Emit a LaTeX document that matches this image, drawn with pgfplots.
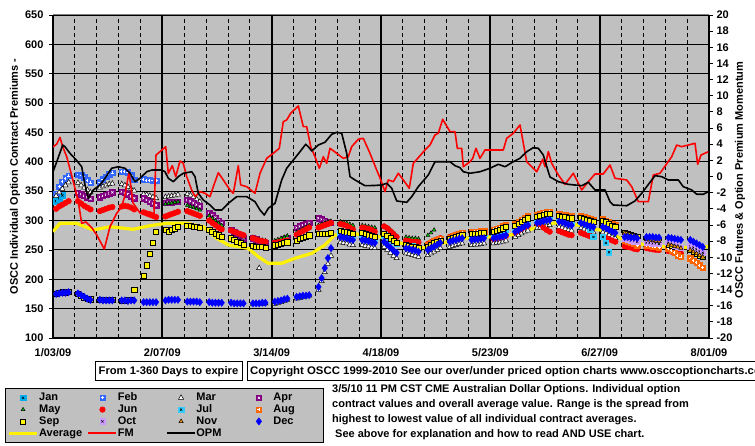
\documentclass[border=0pt]{standalone}
\usepackage{fontspec}
\setmainfont{Liberation Sans}
\usepackage{pgfplots}
\pgfplotsset{compat=1.18}
\definecolor{bggray}{HTML}{C0C0C0}
\definecolor{febblue}{HTML}{3366FF}
\definecolor{aprpurple}{HTML}{800080}
\definecolor{maygreen}{HTML}{00CC00}
\definecolor{julcyan}{HTML}{33CCFF}
\definecolor{augorange}{HTML}{FF6600}
\definecolor{octlav}{HTML}{CC99FF}
\definecolor{novorange}{HTML}{FF9900}
\definecolor{decblue}{HTML}{0000FF}
\definecolor{topgray}{HTML}{808080}
\newcommand{\ff}{\bfseries\fontsize{11}{13}\selectfont}
\pgfdeclareplotmark{sqxk}{%
  \pgfpathrectangle{\pgfqpoint{-\pgfplotmarksize}{-\pgfplotmarksize}}{\pgfqpoint{2\pgfplotmarksize}{2\pgfplotmarksize}}%
  \pgfusepathqfillstroke
  \begin{pgfscope}\pgfsetstrokecolor{black}\pgfsetlinewidth{0.5pt}%
  \pgfpathmoveto{\pgfqpoint{-0.4\pgfplotmarksize}{-0.4\pgfplotmarksize}}\pgfpathlineto{\pgfqpoint{0.4\pgfplotmarksize}{0.4\pgfplotmarksize}}%
  \pgfpathmoveto{\pgfqpoint{-0.4\pgfplotmarksize}{0.4\pgfplotmarksize}}\pgfpathlineto{\pgfqpoint{0.4\pgfplotmarksize}{-0.4\pgfplotmarksize}}%
  \pgfusepathqstroke\end{pgfscope}}
\pgfdeclareplotmark{sqxw}{%
  \pgfpathrectangle{\pgfqpoint{-\pgfplotmarksize}{-\pgfplotmarksize}}{\pgfqpoint{2\pgfplotmarksize}{2\pgfplotmarksize}}%
  \pgfusepathqfillstroke
  \begin{pgfscope}\pgfsetstrokecolor{white}\pgfsetlinewidth{0.6pt}%
  \pgfpathmoveto{\pgfqpoint{-0.4\pgfplotmarksize}{-0.4\pgfplotmarksize}}\pgfpathlineto{\pgfqpoint{0.4\pgfplotmarksize}{0.4\pgfplotmarksize}}%
  \pgfpathmoveto{\pgfqpoint{-0.4\pgfplotmarksize}{0.4\pgfplotmarksize}}\pgfpathlineto{\pgfqpoint{0.4\pgfplotmarksize}{-0.4\pgfplotmarksize}}%
  \pgfusepathqstroke\end{pgfscope}}
\pgfdeclareplotmark{sqpw}{%
  \pgfpathrectangle{\pgfqpoint{-\pgfplotmarksize}{-\pgfplotmarksize}}{\pgfqpoint{2\pgfplotmarksize}{2\pgfplotmarksize}}%
  \pgfusepathqfillstroke
  \begin{pgfscope}\pgfsetstrokecolor{white}\pgfsetlinewidth{0.7pt}%
  \pgfpathmoveto{\pgfqpoint{-0.55\pgfplotmarksize}{0pt}}\pgfpathlineto{\pgfqpoint{0.55\pgfplotmarksize}{0pt}}%
  \pgfpathmoveto{\pgfqpoint{0pt}{-0.55\pgfplotmarksize}}\pgfpathlineto{\pgfqpoint{0pt}{0.55\pgfplotmarksize}}%
  \pgfusepathqstroke\end{pgfscope}}
\pgfplotsset{
  mk/.style={only marks, line width=0.5pt,
    legend image code/.code={\path[draw=none,fill=none] (0pt,-3pt) rectangle (28pt,3pt);
      \draw[mark repeat=2,mark phase=2,##1] plot coordinates {(0pt,0pt) (14pt,0pt) (28pt,0pt)};}},
  ln/.style={legend image code/.code={\draw[##1] (0pt,0pt) -- (28pt,0pt);}},
}
\newcommand{\lgd}[1]{\addlegendentry{\makebox[48pt][l]{#1}}}
\begin{document}
\begin{tikzpicture}
\useasboundingbox (0,0) rectangle (755pt,446pt);
\begin{axis}[
  at={(53pt,108pt)}, anchor=south west, scale only axis, width=656pt, height=323pt,
  xmin=0, xmax=210, ymin=100, ymax=650,
  axis lines*=left,
  axis line style={black, line width=1.2pt},
  axis background/.style={fill=bggray},
  xtick={0,35,70,105,140,175,210},
  xticklabels={1/03/09,2/07/09,3/14/09,4/18/09,5/23/09,6/27/09,8/01/09},
  minor xtick={7,14,21,28,42,49,56,63,77,84,91,98,112,119,126,133,147,154,161,168,182,189,196,203},
  ytick={100,150,...,650},
  xminorgrids, ymajorgrids,
  grid style={black},
  minor grid style={black, line width=0.8pt, dash pattern=on 4pt off 3pt},
  major grid style={black, line width=1.1pt},
  tick align=outside, major tick length=4pt, minor tick length=0pt,
  xtick style={draw=none},
  ytick style={black, line width=0.8pt},
  tick label style={font=\ff},
  /pgf/number format/assume math mode=true,
  xticklabel style={yshift=-3pt},
  yticklabel style={xshift=-2pt},
  legend columns=4,
  legend cell align=left,
  legend style={at={(-0.0732,-0.1548)}, anchor=north west, fill=bggray, draw=black, line width=1pt,
    font=\ff, inner xsep=2pt, inner ysep=3.4pt,
    nodes={inner sep=0.5pt, text height=8.3pt, text depth=2.5pt}},
]
\pgfplotsinvokeforeach{35,70,105,140,175}{\draw[black, line width=1.7pt] (axis cs:#1,100) -- (axis cs:#1,650);}
\addplot[forget plot, color=yellow, line width=3.2pt, line join=round] coordinates {
(0,281)(2.24,295.3)(7.59,295.3)(12.9,283.9)(18.25,289.5)(25.71,285.1)(31.05,291.2)(36.4,295.3)(42.8,295.3)(48.11,289.5)(52.4,269.8)(56.12,258.4)(62.52,252.7)(65.72,238.4)(68.92,227.2)(73.21,227.2)(77.47,235.7)(82.82,244.2)(87.07,258.4)(90.27,275.4)(97.32,277.1)(104.68,272)(111.08,261.8)(119.09,253.3)(126.13,263.5)(132.53,270.3)(139.89,272)(146.61,275.4)(154.3,287.3)(161,296.3)(167.7,292.4)(175.1,283.9)(181.5,270.3)(189.5,258.4)(195.9,255.5)(203.2,253.8)(210,255.5)};
% Jan
\addplot[mk, mark=sqxk, mark size=2.7pt, mark options={draw=cyan, fill=cyan}] coordinates {(1,333)(2,338)(3,343)};
\lgd{Jan}
% Feb
\addplot[mk, mark=sqpw, mark size=2.7pt, mark options={draw=febblue, fill=febblue}] coordinates {
(1,346)(2,358)(3,366)(4,372)(5,376)(8,378)(9,377)(10,374)(11,369)(12,364)
(15,365)(16,370)(17,375)(18,379)(19,381)(22,383)(23,383)(24,382)(25,377)(26,369)
(29,370)(30,369)(31,369)(32,368)(33,368)};
\lgd{Feb}
% Mar
\addplot[mk, mark=triangle*, mark size=3pt, mark options={draw=black, fill=white}] coordinates {
(1,342)(2,348)(3,354)(4,360)(5,365)(8,364)(9,360)(10,356)(11,352)(12,348)
(15,356)(16,358)(17,360)(18,362)(19,363)(22,362)(23,360)(24,357)(25,354)(26,351)
(29,345)(30,344)(31,342)(32,340)(33,338)(36,340)(37,341)(38,342)(39,343)(40,344)
(43,345)(44,343)(45,340)(46,336)(47,332)(50,312)(51,306)(52,300)(53,295)(54,290)
(57,282)(58,280)(59,278)(60,276)(61,274)(64,158)(65,159)(66,219)(67,158)(68,159)
(71,158)(72,160)(73,161)(74,163)(75,165)(78,167)(79,168)(80,170)(81,171)(82,172)
(85,182)(86,197)(87,212)(88,226)(89,240)(92,263)(93,262)(94,261)(95,259)(96,258)
(99,258)(100,257)(101,256)(102,254)(103,253)(106,255)(107,250)(108,245)(109,240)(110,236)
(113,244)(114,243)(115,241)(116,240)(117,238)(120,241)(121,244)(122,247)(123,250)(124,253)
(127,255)(128,257)(129,258)(130,260)(131,261)(134,258)(135,259)(136,259)(137,260)(138,261)
(141,261)(142,262)(143,263)(144,264)(145,266)(148,272)(149,275)(150,278)(151,281)(152,283)
(155,287)(156,288)(157,290)(158,291)(159,292)(162,289)(163,288)(164,286)(165,284)(166,283)
(169,287)(170,285)(171,283)(172,281)(173,280)(176,280)(177,278)(178,275)(179,272)(180,270)};
\lgd{Mar}
% Apr
\addplot[mk, mark=sqxw, mark size=2.7pt, mark options={draw=aprpurple, fill=aprpurple}] coordinates {
(8,347)(9,345)(10,342)(11,340)(12,337)(15,340)(16,342)(17,344)(18,346)(19,348)
(22,349)(23,347)(24,345)(25,341)(26,338)(29,338)(30,335)(31,332)(32,329)(33,326)
(36,330)(37,331)(38,331)(39,332)(40,332)(43,335)(44,333)(45,330)(46,327)(47,324)
(50,313)(51,309)(52,305)(53,300)(54,296)(57,284)(58,281)(59,277)(60,274)(61,270)
(64,270)(65,268)(66,266)(67,264)(68,262)(71,262)(72,264)(73,266)(74,268)(75,270)
(78,288)(79,290)(80,292)(81,294)(82,296)(85,304)(86,302)(87,300)(88,298)(89,296)};
\lgd{Apr}
% May
\addplot[mk, mark=triangle*, mark size=2.2pt, mark options={draw=black, fill=maygreen}] coordinates {
(36,328)(37,329)(38,330)(39,331)(40,332)(43,326)(44,324)(45,322)(46,320)(47,318)
(50,308)(51,304)(52,300)(53,296)(54,292)(57,284)(58,281)(59,278)(60,275)(61,272)
(64,272)(65,270)(66,268)(67,267)(68,266)(71,266)(72,268)(73,270)(74,272)(75,274)
(78,280)(79,283)(80,286)(81,289)(82,292)(85,292)(86,294)(87,296)(88,298)(89,299)
(92,298)(93,297)(94,296)(95,294)(96,292)(99,292)(100,291)(101,290)(102,289)(103,288)
(106,291)(107,288)(108,284)(109,279)(110,274)(113,272)(114,271)(115,270)(116,270)(117,269)
(120,275)(121,279)(122,284)};
\lgd{May}
% Jun
\addplot[mk, mark=*, mark size=2.8pt, mark options={draw=red, fill=red}] coordinates {
(1,320)(2,324)(3,327)(4,330)(5,333)(8,333)(9,329)(10,325)(11,322)(12,319)
(15,316)(16,318)(17,320)(18,322)(19,323)(22,324)(23,325)(24,324)(25,322)(26,319)
(29,314)(30,312)(31,310)(32,308)(33,306)(36,307)(37,309)(38,311)(39,313)(40,315)
(43,316)(44,314)(45,312)(46,310)(47,308)(50,300)(51,296)(52,292)(53,288)(54,285)
(57,283)(58,281)(59,279)(60,277)(61,275)(64,270)(65,268)(66,266)(67,265)(68,264)
(71,262)(72,263)(73,264)(74,265)(75,266)(78,276)(79,279)(80,282)(81,285)(82,288)
(85,288)(86,290)(87,292)(88,294)(89,296)(92,294)(93,293)(94,291)(95,288)(96,285)
(99,288)(100,287)(101,286)(102,284)(103,281)(106,290)(107,287)(108,282)(109,277)(110,272)
(113,266)(114,265)(115,264)(116,264)(117,263)(120,260)(121,263)(122,266)(123,268)(124,270)
(127,272)(128,274)(129,276)(130,277)(131,278)(134,278)(135,279)(136,279)(137,280)(138,280)
(141,269)(142,270)(143,271)(144,272)(145,274)(148,280)(149,283)(150,286)(151,289)(152,291)
(155,295)(156,294)(157,288)(158,284)(159,281)(162,282)(163,280)(164,278)(165,276)(166,275)
(169,279)(170,277)(171,275)(172,273)(173,272)(176,272)(177,270)(178,268)(179,266)(180,264)
(183,256)(184,255)(185,254)(186,252)(187,251)(190,253)(191,252)(192,251)(193,250)(194,250)
(197,248)(198,247)(199,246)(200,245)(201,244)};
\lgd{Jun}
% Jul
\addplot[mk, mark=sqxk, mark size=2.7pt, mark options={draw=julcyan, fill=julcyan}] coordinates {
(92,279)(93,278)(94,277)(95,276)(96,275)(99,276)(100,274)(101,272)(102,270)(103,268)
(106,275)(107,272)(108,268)(109,264)(110,260)(113,258)(114,257)(115,256)(116,255)(117,254)
(120,255)(121,258)(122,261)(123,264)(124,266)(127,268)(128,270)(129,272)(130,274)(131,276)
(134,274)(135,275)(136,276)(137,277)(138,278)(141,278)(142,280)(143,282)(144,283)(145,284)
(148,285)(149,289)(150,293)(151,296)(152,299)(155,300)(156,302)(157,304)(158,305)(159,306)
(162,303)(163,302)(164,300)(165,299)(166,297)(169,298)(170,296)(171,294)(172,284)(173,272)
(176,272)(177,262)(178,246)};
\lgd{Jul}
% Aug
\addplot[mk, mark=sqpw, mark size=2.7pt, mark options={draw=augorange, fill=augorange}] coordinates {
(120,259)(121,262)(122,265)(123,267)(124,269)(127,271)(128,273)(129,275)(130,277)(131,279)
(134,280)(135,281)(136,281)(137,282)(138,282)(141,284)(142,286)(143,288)(144,290)(145,292)
(148,294)(149,297)(150,301)(151,304)(152,307)(155,309)(156,311)(157,313)(158,314)(159,315)
(162,311)(163,310)(164,309)(165,308)(166,307)(169,308)(170,306)(171,305)(172,303)(173,301)
(176,302)(177,300)(178,297)(179,294)(180,292)(183,266)(184,264)(185,262)(186,260)(187,258)
(190,258)(191,257)(192,256)(193,255)(194,254)(197,252)(198,249)(199,245)(200,241)(201,238)
(204,236)(205,232)(206,228)(207,224)(208,220)};
\lgd{Aug}
% Sep
\addplot[mk, mark=square*, mark size=2.6pt, mark options={draw=black, fill=yellow}] coordinates {
(1,176)(2,177)(3,178)(4,178)(5,179)(8,175)(9,172)(10,169)(11,167)(12,166)
(15,165)(16,165)(17,165)(18,165)(19,165)(22,164)(23,164)(24,165)(25,165)(26,182)
(29,206)(30,224)(31,243)(32,262)(33,281)(36,284)(37,281)(38,284)(39,287)(40,289)
(43,291)(44,291)(45,290)(46,289)(47,288)(50,284)(51,281)(52,278)(53,275)(54,273)
(57,270)(58,267)(59,264)(60,262)(61,259)(64,257)(65,256)(66,255)(67,255)(68,254)
(71,258)(72,259)(73,261)(74,262)(75,263)(78,266)(79,269)(80,271)(81,273)(82,275)
(85,277)(86,277)(87,278)(88,278)(89,279)(92,282)(93,281)(94,280)(95,279)(96,278)
(99,279)(100,277)(101,275)(102,274)(103,272)(106,278)(107,274)(108,270)(109,266)(110,262)
(113,258)(114,257)(115,256)(116,255)(117,254)(120,256)(121,259)(122,262)(123,264)(124,266)
(127,268)(128,270)(129,272)(130,274)(131,276)(134,277)(135,278)(136,278)(137,279)(138,279)
(141,281)(142,283)(143,285)(144,287)(145,289)(148,291)(149,294)(150,298)(151,301)(152,304)
(155,306)(156,308)(157,310)(158,311)(159,312)(162,308)(163,307)(164,306)(165,305)(166,304)
(169,305)(170,303)(171,302)(172,300)(173,298)(176,299)(177,297)(178,294)(179,291)(180,289)
(183,279)(184,277)(185,275)(186,274)(187,273)(190,268)(191,267)(192,266)(193,265)(194,265)
(197,259)(198,258)(199,256)(200,255)(201,253)(204,250)(205,247)(206,244)(207,241)(208,238)};
\lgd{Sep}
% Oct
\addplot[mk, mark=sqxk, mark size=2.7pt, mark options={draw=octlav, fill=octlav}] coordinates {
(183,270)(184,268)(185,266)(186,265)(187,264)(190,262)(191,262)(192,261)(193,261)(194,260)
(197,262)(198,260)(199,258)(200,256)(201,254)(204,256)(205,254)(206,251)(207,248)(208,245)};
\lgd{Oct}
% Nov
\addplot[mk, mark=triangle*, mark size=2.4pt, mark options={draw=black, fill=novorange}] coordinates {
(183,279)(184,277)(185,275)(186,274)(187,273)(190,268)(191,267)(192,266)(193,265)(194,265)
(197,259)(198,258)(199,256)(200,255)(201,253)(204,250)(205,247)(206,244)(207,241)(208,238)};
\lgd{Nov}
% Dec
\addplot[mk, mark=diamond*, mark size=3.6pt, mark options={draw=decblue, fill=decblue}] coordinates {
(1,175)(2,176)(3,177)(4,177)(5,178)(8,176)(9,173)(10,170)(11,167)(12,165)
(15,165)(16,164)(17,164)(18,164)(19,164)(22,164)(23,164)(24,163)(25,164)(26,164)
(29,161)(30,161)(31,161)(32,161)(33,161)(36,164)(37,165)(38,165)(39,165)(40,165)
(43,162)(44,162)(45,162)(46,162)(47,161)(50,161)(51,160)(52,160)(53,160)(54,160)
(57,160)(58,159)(59,159)(60,159)(61,159)(64,159)(65,159)(66,159)(67,160)(68,160)
(71,162)(72,163)(73,164)(74,166)(75,167)(78,170)(79,171)(80,172)(81,172)(82,173)
(85,187)(86,202)(87,219)(88,236)(89,253)(92,272)(93,271)(94,270)(95,268)(96,267)
(99,267)(100,266)(101,265)(102,263)(103,262)(106,264)(107,259)(108,254)(109,249)(110,245)
(113,253)(114,252)(115,250)(116,249)(117,247)(120,250)(121,253)(122,256)(123,259)(124,262)
(127,264)(128,266)(129,267)(130,269)(131,270)(134,267)(135,268)(136,268)(137,269)(138,270)
(141,270)(142,271)(143,272)(144,273)(145,275)(148,281)(149,284)(150,287)(151,290)(152,292)
(155,296)(156,297)(157,299)(158,300)(159,301)(162,298)(163,297)(164,295)(165,293)(166,292)
(169,296)(170,294)(171,292)(172,290)(173,289)(176,289)(177,287)(178,284)(179,281)(180,279)
(183,272)(184,272)(185,271)(186,271)(187,270)(190,272)(191,272)(192,272)(193,271)(194,271)
(197,271)(198,270)(199,269)(200,268)(201,267)(204,267)(205,264)(206,261)(207,258)(208,255)};
\lgd{Dec}
\addlegendimage{ln, color=yellow, line width=3.2pt}\lgd{Average}
\addlegendimage{ln, color=red, line width=1.6pt}\lgd{FM}
\addlegendimage{ln, color=black, line width=1.6pt}\lgd{OPM}
\end{axis}
\begin{axis}[
  at={(53pt,108pt)}, anchor=south west, scale only axis, width=656pt, height=323pt,
  xmin=0, xmax=210, ymin=-20, ymax=20,
  axis x line=none, axis y line*=right,
  axis line style={black, line width=1.6pt},
  ytick={-20,-18,...,20},
  tick align=outside, major tick length=4pt,
  ytick style={black, line width=0.8pt},
  tick label style={font=\ff},
  /pgf/number format/assume math mode=true,
]
\addplot[red, line width=1.6pt, line join=round] coordinates {
(0,3.65)(1.18,4.02)(2.24,4.85)(3.11,3.69)(4.39,2.45)(6.5,-0.64)(8.1,-3.12)(9.19,-5.8)(10.56,-5.63)(12.48,-6.38)(13.99,-7.24)(16.42,-8.98)(18.25,-6.22)(20.39,-4.56)(21.99,-3.74)(23.05,-2.29)(24.33,0.56)(25.61,-3.28)(27.85,-4.52)(31.05,-4.4)(32.33,-4.64)(32.97,2.66)(34.25,3.07)(36.08,3.69)(36.91,0.4)(38.19,1.34)(39.28,-0.02)(40.66,1.92)(41.71,1.63)(42.8,-0.02)(44.4,-1.67)(45.46,-2.5)(47.06,-1.88)(48.66,-2.08)(50.26,-2.5)(51.32,-1.26)(52.92,0.47)(54.52,-0.43)(56.66,-1.67)(57.72,-2.08)(59.32,1.34)(60.09,-1.05)(62.01,-1.26)(64.67,-2.08)(66.27,0.4)(68.41,2.25)(70.52,2.87)(72.44,3.49)(73.72,6.79)(74.81,7)(76.09,7.83)(78.53,8.73)(80.13,6.17)(81.21,6.17)(82.5,3.69)(83.87,2.45)(85.25,1.02)(86.53,2.45)(87.62,1.63)(88.67,3.49)(90.82,2.87)(92.93,2.25)(94.53,2.45)(95.62,3.69)(97.73,4.61)(99.33,4.73)(101.48,2.87)(103.62,0.8)(104.68,-0.19)(106.28,-1.88)(107.34,-0.43)(108.94,-0.64)(110.54,0.4)(112.14,-0.43)(114.06,-1.46)(115.34,1.63)(119.09,3.28)(120.69,3.9)(122.29,5.14)(123.34,5.35)(124.75,7.08)(127.09,5.55)(128.69,5.55)(129.43,3.49)(130.83,3.49)(131.35,1.21)(133.49,1.83)(134.36,2.25)(135.41,3.49)(136.69,2.25)(138.29,3.28)(144.15,3.28)(145.24,4.73)(147.35,5.35)(149.5,6.38)(151.64,1.83)(154.84,0.59)(156.76,2.13)(157.5,1.21)(158.56,3.07)(159.65,1.63)(161.76,0.19)(163.9,-0.97)(166.56,0.4)(169.25,-1.67)(171.36,-0.64)(173.51,0.31)(176.16,0.31)(178.31,1.42)(179.91,-0.22)(183.65,-0.43)(185.26,-1.26)(187.37,-3.12)(190.57,-3.12)(192.17,0.19)(194.31,0.4)(198.06,2.45)(199.66,3.9)(201.26,3.69)(205.52,4.11)(206.38,1.51)(207.44,2.66)(209.78,3.07)};
\addplot[black, line width=1.6pt, line join=round] coordinates {
(0,0.59)(1.18,1.8)(3.11,3.9)(3.84,3.69)(5.44,2.87)(7.59,1.98)(9.19,1.21)(10.24,-1.05)(11.3,-2.7)(12.9,-1.67)(15.05,-1.05)(16.65,-0.22)(18.79,1.02)(20.9,1.21)(23.05,1.02)(24.65,0.4)(26.25,-0.64)(27.85,-0.22)(30,0.59)(31.6,0.8)(34.8,0.8)(35.85,0.59)(36.91,-0.22)(38.51,-0.64)(40.11,-0.02)(41.71,0.4)(44.4,0.59)(45.46,-0.02)(46.51,-2.08)(48.11,-2.91)(50.26,-3.53)(51.86,-4.15)(54.01,-4.15)(56.12,-3.32)(58.81,-2.5)(62.01,-2.5)(64.67,-3.12)(66.27,-4.15)(67.64,-4.77)(68.92,-3.94)(71.07,-3.32)(73.21,-0.43)(74.81,1.02)(76.93,2.04)(79.07,3.07)(80.9,3.99)(81.73,3.69)(82.82,3.16)(84.93,3.9)(87.07,4.24)(89.22,5.23)(90.82,5.47)(92.42,5.35)(94.02,2.87)(95.08,-0.02)(96.68,-0.43)(99.88,-1.14)(103.08,-1.11)(105.22,-1.05)(106.82,-0.84)(108.43,-1.46)(110.03,-3.03)(113.23,-3.2)(114.83,-2.5)(116.94,-1.26)(120.14,0.19)(122.29,1.83)(127.09,1.83)(128.69,1.34)(130.29,1.09)(131.35,0.59)(133.49,0.4)(136.69,0.59)(139.89,1.02)(142.55,1.51)(144.7,1.21)(147.35,1.83)(149.5,2.25)(151.64,3.07)(153.76,3.57)(155.36,3.49)(156.96,2.66)(158.56,0.59)(159.1,-0.06)(161.76,-0.64)(164.96,-0.97)(169.25,-1.14)(171.36,-0.72)(173.51,-1.67)(176.71,-1.67)(178.31,-3.12)(179.37,-3.53)(183.65,-3.62)(186.31,-3.03)(188.46,-2.08)(192.71,0.1)(194.86,-0.02)(196.97,-0.43)(200.17,-0.43)(201.77,-1.26)(204.46,-1.67)(206.06,-2.2)(208.17,-2.2)(209.78,-1.88)};
\end{axis}
\draw[topgray, line width=1pt] (53pt,431pt) -- (709pt,431pt);
\node[font=\ff, rotate=90] at (15pt,269.5pt) {OSCC Individual Option Contract Premiums -};
\node[font=\ff, rotate=90] at (740pt,266pt) {OSCC Futures \& Option Premium Momentum};
\draw[black, line width=1pt] (95pt,65pt) rectangle (242pt,84pt);
\node[font=\ff] at (168.5pt,74.5pt) {\scalebox{1.02}[1]{From 1-360 Days to expire}};
\draw[black, line width=1pt] (247pt,65pt) rectangle (780pt,84pt);
\node[font=\ff, anchor=west, inner sep=0pt] at (250pt,74.5pt) {\scalebox{1.035}[1]{Copyright OSCC 1999-2010 See our over/under priced option charts www.osccoptioncharts.com}};
\node[font=\ff, anchor=base west, inner sep=0pt] at (332pt,53.5pt) {3/5/10 11 PM CST CME Australian Dollar Options. Individual option};
\node[font=\ff, anchor=base west, inner sep=0pt] at (332pt,38.5pt) {contract values and overall average value. Range is the spread from};
\node[font=\ff, anchor=base west, inner sep=0pt] at (332pt,23.5pt) {highest to lowest value of all individual contract averages.};
\node[font=\ff, anchor=base west, inner sep=0pt] at (335pt,8.5pt) {See above for explanation and how to read AND USE chart.};
\end{tikzpicture}
\end{document}
